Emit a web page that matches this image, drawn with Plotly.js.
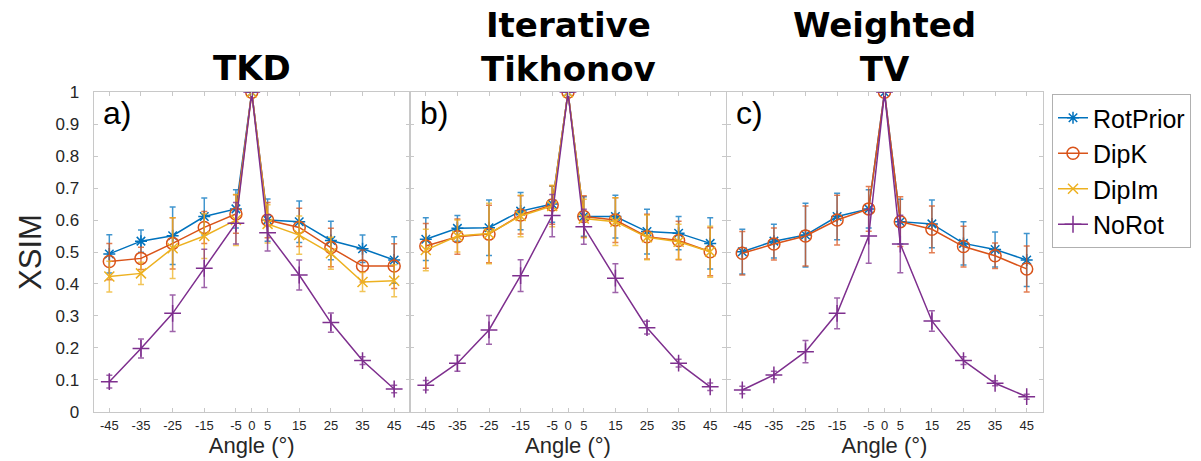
<!DOCTYPE html>
<html>
<head>
<meta charset="utf-8">
<script src="https://cdn.plot.ly/plotly-3.0.1.min.js"></script>
<style>html,body{margin:0;padding:0;background:#fff}#chart{width:1201px;height:461px}</style>
</head>
<body>
<div id="chart"></div>
<script>
const angles = [-45,-35,-25,-15,-5,0,5,15,25,35,45];
const angleTickText = ['-45','-35','-25','-15','-5','0','5','15','25','35','45'];
const seriesNames = ['RotPrior','DipK','DipIm','NoRot'];
const panelTitles = ['TKD','Iterative<br>Tikhonov','Weighted<br>TV'];
const panelLabels = ['a)','b)','c)'];

// Panel a: TKD
const rotA      = [0.494,0.534,0.551,0.611,0.635,1,0.600,0.595,0.536,0.510,0.475];
const rotAErr   = [0.060,0.035,0.090,0.058,0.060,0,0.066,0.065,0.060,0.043,0.073];
const dipkA     = [0.470,0.480,0.527,0.577,0.619,1,0.600,0.577,0.514,0.456,0.456];
const dipkAErr  = [0.057,0.035,0.080,0.050,0.060,0,0.055,0.060,0.060,0.050,0.070];
const dipimA    = [0.423,0.433,0.512,0.550,0.600,1,0.588,0.553,0.496,0.406,0.410];
const dipimAErr = [0.048,0.035,0.095,0.070,0.080,0,0.060,0.060,0.050,0.030,0.050];
const noRotA    = [0.094,0.198,0.308,0.449,0.590,1,0.560,0.428,0.279,0.160,0.071];
const noRotAErr = [0.020,0.030,0.057,0.060,0.065,0,0.057,0.047,0.030,0.012,0.012];

// Panel b: Iterative Tikhonov
const rotB      = [0.540,0.574,0.576,0.628,0.650,1,0.611,0.611,0.564,0.559,0.527];
const rotBErr   = [0.067,0.040,0.087,0.058,0.057,0,0.062,0.067,0.070,0.052,0.080];
const dipkB     = [0.519,0.548,0.556,0.616,0.647,1,0.611,0.600,0.548,0.536,0.501];
const dipkBErr  = [0.070,0.055,0.090,0.060,0.060,0,0.065,0.070,0.070,0.060,0.075];
const dipimB    = [0.506,0.550,0.558,0.613,0.644,1,0.605,0.595,0.546,0.532,0.501];
const dipimBErr = [0.065,0.050,0.095,0.065,0.065,0,0.060,0.075,0.070,0.055,0.080];
const noRotB    = [0.083,0.152,0.256,0.426,0.614,1,0.579,0.418,0.263,0.152,0.078];
const noRotBErr = [0.015,0.025,0.045,0.050,0.066,0,0.055,0.045,0.020,0.012,0.012];

// Panel c: Weighted TV
const rotC      = [0.501,0.534,0.553,0.611,0.635,1,0.595,0.588,0.527,0.508,0.475];
const rotCErr   = [0.070,0.053,0.100,0.073,0.060,0,0.070,0.075,0.068,0.055,0.083];
const dipkC     = [0.496,0.525,0.550,0.600,0.635,1,0.595,0.571,0.517,0.488,0.447];
const dipkCErr  = [0.068,0.050,0.094,0.078,0.070,0,0.078,0.073,0.064,0.040,0.072];
const noRotC    = [0.068,0.115,0.188,0.308,0.550,1,0.525,0.284,0.160,0.089,0.047];
const noRotCErr = [0.012,0.012,0.035,0.048,0.085,0,0.090,0.032,0.012,0.008,0.008];

const colors = {RotPrior:'#0072BD', DipK:'#D95319', DipIm:'#EDB120', NoRot:'#7E2F8E'};
const errColors = {RotPrior:'rgba(0,114,189,0.75)', DipK:'rgba(217,83,25,0.75)', DipIm:'rgba(237,177,32,0.75)', NoRot:'rgba(126,47,142,0.75)'};
const symbols = {RotPrior:'asterisk-open', DipK:'circle-open', DipIm:'x-thin-open', NoRot:'cross-thin-open'};
const sizes = {RotPrior:10, DipK:12, DipIm:10, NoRot:12};

function tr(name, y, err, ax, show){
  return {
    type:'scatter', mode:'lines+markers', name:name, x:angles, y:y,
    xaxis:'x'+ax, yaxis:'y'+ax, showlegend:show, legendgroup:name,
    line:{color:colors[name], width:1.5},
    marker:{symbol:symbols[name], size:sizes[name], color:colors[name], line:{width:1.5, color:colors[name]}},
    error_y:{type:'data', array:err, visible:true, color:errColors[name], thickness:1.5, width:3}
  };
}

const data = [
  tr('RotPrior', rotA, rotAErr, '', true),
  tr('DipK', dipkA, dipkAErr, '', true),
  tr('DipIm', dipimA, dipimAErr, '', true),
  tr('NoRot', noRotA, noRotAErr, '', true),
  tr('RotPrior', rotB, rotBErr, '2', false),
  tr('DipK', dipkB, dipkBErr, '2', false),
  tr('DipIm', dipimB, dipimBErr, '2', false),
  tr('NoRot', noRotB, noRotBErr, '2', false),
  tr('RotPrior', rotC, rotCErr, '3', false),
  tr('DipK', dipkC, dipkCErr, '3', false),
  tr('NoRot', noRotC, noRotCErr, '3', false)
];

const W = 1201, H = 461;
const axColor = '#c8c8c8';
const tickFontX = {family:'Liberation Sans Narrow, Arial Narrow, sans-serif', size:13, color:'#262626'};
const tickFontY = {family:'Liberation Sans Narrow, Arial Narrow, sans-serif', size:17, color:'#262626'};
const yDomain = [1 - 411.7/H, 1 - 92.3/H];
const xDomains = [[93.5/W, 410/W],[410/W, 726/W],[726.5/W, 1042.5/W]];

function xAx(i){
  return {
    domain:xDomains[i], anchor: i===0 ? 'y' : 'y'+(i+1), range:[-50,50],
    tickmode:'array', tickvals:angles, ticktext:angleTickText,
    ticks:'inside', ticklen:4, tickcolor:axColor, tickwidth:1,
    showline:true, linecolor:axColor, linewidth:1, mirror:'ticks',
    showgrid:false, zeroline:false, tickfont:tickFontX, ticklabelstandoff:2,
    title:{text:'Angle (°)', font:{family:'Liberation Sans, Arial, sans-serif', size:22, color:'#262626'}, standoff:0}
  };
}
function yAx(i){
  return {
    domain:yDomain, anchor: i===0 ? 'x' : 'x'+(i+1), range:[0,1],
    tickmode:'array', tickvals:[0,0.1,0.2,0.3,0.4,0.5,0.6,0.7,0.8,0.9,1],
    ticks:'inside', ticklen:4, tickcolor:axColor, tickwidth:1,
    showline:true, linecolor:axColor, linewidth:1, mirror:'ticks',
    showgrid:false, zeroline:false, showticklabels: i===0,
    tickfont:tickFontY, ticklabelstandoff:10,
    title: i===0 ? {text:'XSIM', font:{family:'Liberation Sans, Arial, sans-serif', size:31, color:'#262626'}, standoff:4} : {text:''}
  };
}

const annotations = [];
const titleFont = {family:'DejaVu Sans, Liberation Sans, sans-serif', size:34, color:'#000', weight:'bold'};
panelTitles.forEach((t, i) => {
  const cx = (xDomains[i][0] + xDomains[i][1]) / 2;
  const twoLines = t.indexOf('<br>') >= 0;
  const yMid = twoLines ? 47 : 68;
  annotations.push({text:'<b>'+t.replace('<br>','</b><br><b>')+'</b>', xref:'paper', yref:'paper', x:cx, y:1 - yMid/H,
    xanchor:'center', yanchor:'middle', align:'center', showarrow:false, font:titleFont});
  annotations.push({text:panelLabels[i], xref:'paper', yref:'paper', x:xDomains[i][0] + 8/W, y:1 - 113/H,
    xanchor:'left', yanchor:'middle', showarrow:false,
    font:{family:'Liberation Sans, Arial, sans-serif', size:32, color:'#000'}});
});

const layout = {
  width:W, height:H, margin:{l:0, r:0, t:0, b:0},
  paper_bgcolor:'#fff', plot_bgcolor:'#fff',
  showlegend:true,
  legend:{x:1052/W, y:1 - 94/H, xanchor:'left', yanchor:'top',
    bgcolor:'#fff', bordercolor:'#b0b0b0', borderwidth:1,
    font:{family:'Liberation Sans, Arial, sans-serif', size:25, color:'#000'},
    itemwidth:30, tracegroupgap:0},
  xaxis:xAx(0), xaxis2:xAx(1), xaxis3:xAx(2),
  yaxis:yAx(0), yaxis2:yAx(1), yaxis3:yAx(2),
  annotations:annotations
};

Plotly.newPlot('chart', data, layout, {displayModeBar:false, staticPlot:true});
</script>
</body>
</html>
